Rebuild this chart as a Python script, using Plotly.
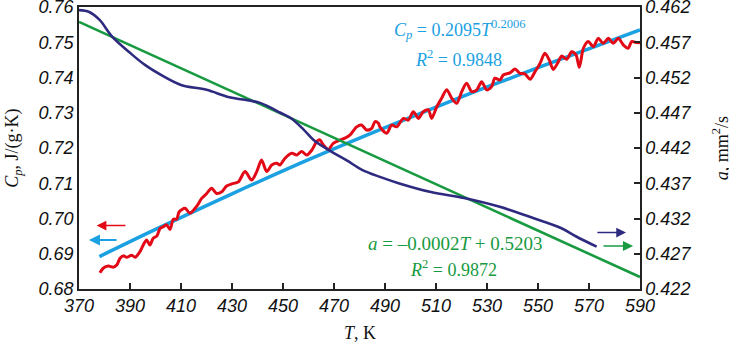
import plotly.graph_objects as go

# ---- data ----
red_T = [378.2, 379.5, 381.5, 383.5, 384.8, 386.1, 387.4, 388.7, 390.7, 392.0,
         393.9, 395.2, 396.5, 397.8, 399.1, 400.5, 401.8, 403.1, 404.4, 405.7,
         407.0, 408.3, 409.3, 411.6, 413.5, 416.2, 418.1, 420.1, 422.0, 424.0,
         426.0, 427.9, 429.9, 432.5, 435.1, 437.7, 439.7, 441.6, 443.6, 445.6,
         447.5, 448.8, 450.8, 453.4, 455.4, 457.3, 459.3, 461.3, 463.2, 464.5,
         465.8, 467.8, 469.7, 472.4, 474.3, 476.3, 478.9, 480.8, 482.8, 484.8,
         486.1, 487.4, 488.0, 490.7, 492.6, 494.6, 497.2, 499.1, 501.1, 503.1,
         505.0, 507.0, 508.3, 510.3, 512.2, 514.2, 516.2, 518.1, 520.1, 522.0,
         524.0, 526.0, 527.9, 529.9, 531.8, 533.1, 535.1, 536.4, 539.0, 541.0,
         542.9, 544.9, 546.9, 548.8, 550.8, 552.7, 554.4, 556.0, 558.0, 559.3,
         561.3, 563.2, 564.9, 566.2, 567.8, 569.7, 571.7, 573.6, 575.6, 577.6,
         579.5, 581.5, 583.5, 585.4, 586.7, 588.7, 590.0]
red_Cp = [0.6846, 0.6859, 0.6865, 0.6862, 0.6868, 0.6887, 0.6894, 0.6890, 0.6896, 0.6890,
          0.6906, 0.6925, 0.6939, 0.6925, 0.6944, 0.6950, 0.6972, 0.6977, 0.6982, 0.6969,
          0.6998, 0.6998, 0.7019, 0.7029, 0.7015, 0.7035, 0.7057, 0.7071, 0.7086, 0.7071,
          0.7076, 0.7092, 0.7098, 0.7104, 0.7133, 0.7109, 0.7133, 0.7166, 0.7133, 0.7152,
          0.7157, 0.7152, 0.7171, 0.7185, 0.7180, 0.7190, 0.7180, 0.7194, 0.7218, 0.7223,
          0.7209, 0.7196, 0.7213, 0.7223, 0.7228, 0.7237, 0.7260, 0.7265, 0.7251, 0.7256,
          0.7275, 0.7270, 0.7260, 0.7242, 0.7265, 0.7260, 0.7284, 0.7279, 0.7303, 0.7284,
          0.7303, 0.7308, 0.7284, 0.7317, 0.7341, 0.7365, 0.7341, 0.7327, 0.7360, 0.7384,
          0.7360, 0.7365, 0.7388, 0.7365, 0.7374, 0.7398, 0.7393, 0.7407, 0.7413, 0.7424,
          0.7412, 0.7410, 0.7395, 0.7416, 0.7440, 0.7469, 0.7450, 0.7423, 0.7445, 0.7461,
          0.7452, 0.7473, 0.7464, 0.7429, 0.7483, 0.7502, 0.7487, 0.7511, 0.7497, 0.7511,
          0.7497, 0.7511, 0.7492, 0.7483, 0.7502, 0.7499, 0.7499]

blue_T = [378, 400, 430, 460, 490, 520, 550, 590]
blue_Cp = [0.6892, 0.6969, 0.7070, 0.7167, 0.7258, 0.7345, 0.7428, 0.7535]

navy_T = [370, 374, 378, 383, 390, 396, 403, 410, 420, 429, 441, 449, 453, 458,
          462, 468, 475, 481, 488, 495, 508, 521, 535, 547, 559, 565, 573]
navy_a = [0.46155, 0.4613, 0.4602, 0.4578, 0.4555, 0.45375, 0.4522, 0.45095, 0.45025,
          0.4492, 0.4484, 0.4470, 0.44625, 0.44465, 0.44315, 0.4417, 0.44025, 0.4389,
          0.4379, 0.43705, 0.43575, 0.4349, 0.43365, 0.4322, 0.43065, 0.42945, 0.4280]

green_T = [370, 590]
green_a = [0.4599, 0.4237]

x_ticks = [370, 390, 410, 430, 450, 470, 490, 510, 530, 550, 570, 590]
left_ticks = [0.68, 0.69, 0.70, 0.71, 0.72, 0.73, 0.74, 0.75, 0.76]
right_ticks = [0.422, 0.427, 0.432, 0.437, 0.442, 0.447, 0.452, 0.457, 0.462]

RED = "#E30A17"
BLUE = "#1BA1E2"
NAVY = "#2E2A80"
GREEN = "#179A40"
SANS = "Liberation Sans, Arial, sans-serif"
SERIF = "Liberation Serif, Times New Roman, serif"

fig = go.Figure()
fig.add_trace(go.Scatter(x=green_T, y=green_a, yaxis="y2", mode="lines",
                         line=dict(color=GREEN, width=2.6), showlegend=False))
fig.add_trace(go.Scatter(x=navy_T, y=navy_a, yaxis="y2", mode="lines",
                         line=dict(color=NAVY, width=2.6, shape="spline", smoothing=1.0),
                         showlegend=False))
fig.add_trace(go.Scatter(x=blue_T, y=blue_Cp, mode="lines",
                         line=dict(color=BLUE, width=3.5, shape="spline"), showlegend=False))
fig.add_trace(go.Scatter(x=red_T, y=red_Cp, mode="lines",
                         line=dict(color=RED, width=3.0, shape="spline", smoothing=0.8),
                         showlegend=False))

tickfont = dict(family=SANS, size=18, color="#111", style="italic")

fig.update_layout(
    width=729, height=349,
    margin=dict(l=79, r=89, t=7, b=60, autoexpand=False),
    paper_bgcolor="white", plot_bgcolor="white",
    xaxis=dict(range=[370, 590], tickvals=x_ticks, ticks="inside", ticklen=6,
               tickcolor="#222", tickwidth=1.5, automargin=False,
               ticklabeloverflow="allow",
               showline=True, linecolor="#222", linewidth=1.5, mirror=True,
               showgrid=False, zeroline=False, tickfont=tickfont),
    yaxis=dict(range=[0.68, 0.76], tickvals=left_ticks, tickformat=".2f", ticks="",
               automargin=False, ticklabeloverflow="allow",
               showline=True, linecolor="#222", linewidth=1.5, mirror=True,
               showgrid=False, zeroline=False, tickfont=tickfont),
    yaxis2=dict(range=[0.422, 0.462], tickvals=right_ticks, tickformat=".3f",
                overlaying="y", side="right", ticks="inside", ticklen=6,
                tickcolor="#222", tickwidth=1.5, automargin=False,
                ticklabeloverflow="allow",
                showline=True, linecolor="#222", linewidth=1.5,
                showgrid=False, zeroline=False, tickfont=tickfont),
)

ann = []
# axis titles
ann.append(dict(text="<i>T</i>, K", xref="paper", yref="paper", x=0.5, y=-0.115,
                yanchor="top", xanchor="center", showarrow=False,
                font=dict(family=SERIF, size=18, color="#111")))
ann.append(dict(text="<i>C<sub>p</sub></i>, J/(g·K)", xref="paper", yref="paper",
                x=-0.118, y=0.5, xanchor="center", yanchor="middle", textangle=-90,
                showarrow=False, font=dict(family=SERIF, size=18, color="#111")))
ann.append(dict(text="<i>a</i>, mm<sup>2</sup>/s", xref="paper", yref="paper",
                x=1.143, y=0.5, xanchor="center", yanchor="middle", textangle=-90,
                showarrow=False, font=dict(family=SERIF, size=18, color="#111")))
# equations
ann.append(dict(text="<i>C<sub>p</sub></i> = 0.2095<i>T</i><sup>0.2006</sup>",
                x=519.4, y=0.7536, xref="x", yref="y", showarrow=False,
                font=dict(family=SERIF, size=18, color=BLUE)))
ann.append(dict(text="<i>R</i><sup>2</sup> = 0.9848",
                x=518.8, y=0.7455, xref="x", yref="y", showarrow=False,
                font=dict(family=SERIF, size=18, color=BLUE)))
ann.append(dict(text="<i>a</i> = –0.0002<i>T</i> + 0.5203",
                x=517.5, y=0.6928, xref="x", yref="y", showarrow=False,
                font=dict(family=SERIF, size=19, color=GREEN)))
ann.append(dict(text="<i>R</i><sup>2</sup> = 0.9872",
                x=516.7, y=0.6857, xref="x", yref="y", showarrow=False,
                font=dict(family=SERIF, size=18, color=GREEN)))
# arrows
ann.append(dict(x=376.9, y=0.6980, ax=388.8, ay=0.6980, xref="x", yref="y",
                axref="x", ayref="y", text="", showarrow=True, arrowhead=2,
                arrowsize=1.3, arrowwidth=1.5, arrowcolor=RED))
ann.append(dict(x=373.9, y=0.6939, ax=385.3, ay=0.6939, xref="x", yref="y",
                axref="x", ayref="y", text="", showarrow=True, arrowhead=2,
                arrowsize=1.0, arrowwidth=2.2, arrowcolor=BLUE))
ann.append(dict(x=584.5, y=0.4300, ax=572.7, ay=0.4300, xref="x", yref="y2",
                axref="x", ayref="y2", text="", showarrow=True, arrowhead=2,
                arrowsize=1.3, arrowwidth=1.5, arrowcolor=NAVY))
ann.append(dict(x=587.3, y=0.4281, ax=575.1, ay=0.4281, xref="x", yref="y2",
                axref="x", ayref="y2", text="", showarrow=True, arrowhead=2,
                arrowsize=1.2, arrowwidth=1.7, arrowcolor=GREEN))
fig.update_layout(annotations=ann)

fig.write_html("out.html", config={"displayModeBar": False},
               post_script="document.body.style.margin='0';document.body.style.padding='0';")
